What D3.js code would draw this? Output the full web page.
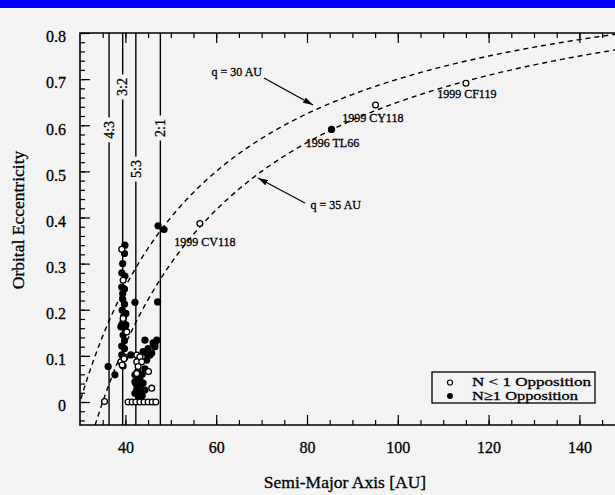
<!DOCTYPE html>
<html>
<head>
<meta charset="utf-8">
<script src="https://cdn.jsdelivr.net/npm/d3@7"></script>
<style>
  body { margin: 0; background: #f3f3f3; }
  svg { display: block; }
  text { font-family: "Liberation Serif", "DejaVu Serif", serif; fill: #000; stroke: #000; stroke-width: 0.3px; }
</style>
</head>
<body>
<svg id="chart" width="615" height="495"></svg>
<script>
// tick values
var xTicks = [40, 60, 80, 100, 120, 140];
var yTicks = [0, 0.1, 0.2, 0.3, 0.4, 0.5, 0.6, 0.7, 0.8];

// mean-motion resonances with Neptune
var resonanceNames = ["4:3", "3:2", "5:3", "2:1"];
var resonanceA = [36.4, 39.4, 42.3, 47.7];
var resonanceLabelE = [0.590, 0.683, 0.505, 0.594];

// perihelion curves
var perihelionQ = [30, 35];

// objects observed at fewer than one opposition [a, e]
var singleOpp = [
  [35.4, 0.001], [39.2, 0.331], [39.5, 0.264], [39.5, 0.181], [40.3, 0.152],
  [39.9, 0.097], [39.0, 0.087], [39.5, 0.078], [39.3, 0.080], [39.7, 0.094],
  [42.5, 0.102], [43.2, 0.098], [42.5, 0.087], [43.6, 0.087], [42.8, 0.077],
  [42.5, 0.062], [45.8, 0.030], [45.1, 0.066],
  [40.6, 0], [41.5, 0], [42.3, 0], [43.2, 0], [44.1, 0], [45.0, 0], [45.9, 0], [46.7, 0],
  [56.4, 0.387], [95.1, 0.644], [115.0, 0.691]
];

// objects observed at one or more oppositions [a, e]
var multiOpp = [
  [36.2, 0.077], [37.7, 0.059],
  [39.9, 0.340], [39.8, 0.322], [39.2, 0.280], [39.9, 0.273], [39.2, 0.249],
  [39.4, 0.223], [39.8, 0.212], [39.3, 0.199], [40.1, 0.192], [39.2, 0.167],
  [39.9, 0.160], [39.5, 0.174], [39.0, 0.163], [40.1, 0.167], [39.5, 0.145],
  [39.8, 0.133], [39.2, 0.121], [39.8, 0.116], [39.2, 0.102], [39.4, 0.235],
  [39.8, 0.245], [39.4, 0.300], [39.6, 0.185],
  [41.2, 0.102],
  [42.1, 0.216], [44.3, 0.134], [46.1, 0.128], [46.5, 0.120], [45.0, 0.116],
  [43.9, 0.109], [44.7, 0.105], [45.4, 0.102], [45.8, 0.106], [44.7, 0.091],
  [44.3, 0.072], [42.1, 0.059], [43.2, 0.051], [42.1, 0.044], [43.9, 0.041],
  [42.7, 0.033], [44.3, 0.026], [42.1, 0.019], [43.6, 0.022], [42.9, 0.012],
  [42.5, 0.028], [43.3, 0.038], [43.7, 0.060], [42.7, 0.066], [42.3, 0.040],
  [43.1, 0.008], [43.7, 0.014], [46.9, 0.134], [46.5, 0.127],
  [47.1, 0.217], [47.2, 0.382], [48.5, 0.374],
  [85.4, 0.591]
];

// named objects and where their labels sit
var objectNames = ["1999 CF119", "1999 CY118", "1996 TL66", "1999 CV118"];
var objectLabelA = [115.2, 94.5, 85.6, 57.5];
var objectLabelE = [0.659, 0.607, 0.552, 0.338];

var svg = d3.select("#chart");

// scanned page has a blue strip on top
svg.append("rect").attr("x", 0).attr("y", 0).attr("width", 615).attr("height", 8).attr("fill", "#0000ff");

var x = d3.scaleLinear().domain([30, 140]).range([80, 579.4]);
var y = d3.scaleLinear().domain([0, 0.8]).range([402, 33]);
var aMin = 30, aMax = x.invert(640);
var eMin = y.invert(425), eMax = 0.8;
var plotL = x(aMin), plotR = x(aMax), plotT = y(eMax), plotB = y(eMin);

svg.append("clipPath").attr("id", "clip")
  .append("rect").attr("x", plotL).attr("y", plotT).attr("width", plotR - plotL).attr("height", plotB - plotT);

function minorRange(a, b, step) {
  var out = [];
  for (var v = a; v <= b + 1e-9; v += step) out.push(+v.toFixed(3));
  return out;
}
var xMinor = minorRange(35, 150, 5);
var yMinor = minorRange(-0.04, 0.8, 0.02);

function styleAxis(g) {
  g.select(".domain").remove();
  g.selectAll("line").attr("stroke", "#000").attr("stroke-width", 1.2);
}

// axes with inward ticks
svg.append("g").attr("transform", "translate(0," + plotB + ")")
  .call(d3.axisBottom(x).tickValues(xMinor).tickSize(-5).tickFormat(""))
  .call(styleAxis);
svg.append("g").attr("transform", "translate(0," + plotB + ")")
  .call(d3.axisBottom(x).tickValues(xTicks).tickSize(-10).tickPadding(17))
  .call(styleAxis)
  .selectAll("text").style("font-size", "16px");
svg.append("g").attr("transform", "translate(0," + plotT + ")")
  .call(d3.axisTop(x).tickValues(xMinor).tickSize(-5).tickFormat(""))
  .call(styleAxis);
svg.append("g").attr("transform", "translate(0," + plotT + ")")
  .call(d3.axisTop(x).tickValues(xTicks).tickSize(-10).tickFormat(""))
  .call(styleAxis);

svg.append("g").attr("transform", "translate(" + plotL + ",0)")
  .call(d3.axisLeft(y).tickValues(yMinor).tickSize(-5).tickFormat(""))
  .call(styleAxis);
svg.append("g").attr("transform", "translate(" + plotL + ",0)")
  .call(d3.axisLeft(y).tickValues(yTicks).tickSize(-10).tickPadding(14)
    .tickFormat(function (d) { return d === 0 ? "0" : d3.format(".1f")(d); }))
  .call(styleAxis)
  .selectAll("text").style("font-size", "16px").attr("dy", "0.55em");

// frame
svg.append("path")
  .attr("d", "M" + plotR + "," + plotT + "H" + plotL + "V" + plotB + "H" + plotR)
  .attr("fill", "none").attr("stroke", "#000").attr("stroke-width", 1.6);

// axis titles
svg.append("text").attr("x", 345).attr("y", 488).attr("text-anchor", "middle")
  .style("font-size", "17.5px").text("Semi-Major Axis [AU]");
svg.append("text").attr("transform", "translate(24,220) rotate(-90)").attr("text-anchor", "middle")
  .style("font-size", "17.5px").text("Orbital Eccentricity");

var plot = svg.append("g").attr("clip-path", "url(#clip)");

// resonance lines with their rotated labels
resonanceA.forEach(function (a, i) {
  plot.append("line").attr("x1", x(a)).attr("x2", x(a)).attr("y1", plotT).attr("y2", plotB)
    .attr("stroke", "#000").attr("stroke-width", 1.4);
  var ly = y(resonanceLabelE[i]);
  plot.append("rect").attr("x", x(a) - 6).attr("y", ly - 12.5).attr("width", 12).attr("height", 25)
    .attr("fill", "#f3f3f3");
  plot.append("text").attr("transform", "translate(" + (x(a) + 4.8) + "," + ly + ") rotate(-90)")
    .attr("text-anchor", "middle").style("font-size", "14px").text(resonanceNames[i]);
});

// constant perihelion curves e = 1 - q/a
var curve = d3.line().x(function (d) { return x(d[0]); }).y(function (d) { return y(d[1]); });
perihelionQ.forEach(function (q) {
  var pts = d3.range(q / (1 - eMin), aMax, 0.25).map(function (a) { return [a, 1 - q / a]; });
  plot.append("path").attr("d", curve(pts)).attr("fill", "none")
    .attr("stroke", "#000").attr("stroke-width", 1.4).attr("stroke-dasharray", "5,4");
});

// data points
plot.selectAll(".multi").data(multiOpp).enter().append("circle")
  .attr("cx", function (d) { return x(d[0]); })
  .attr("cy", function (d) { return y(d[1]); })
  .attr("r", 3.6).attr("fill", "#000");
plot.selectAll(".single").data(singleOpp).enter().append("circle")
  .attr("cx", function (d) { return x(d[0]); })
  .attr("cy", function (d) { return y(d[1]); })
  .attr("r", 2.9).attr("fill", "#fff").attr("stroke", "#000").attr("stroke-width", 1.3);

// object names
objectNames.forEach(function (name, i) {
  plot.append("text").attr("x", x(objectLabelA[i])).attr("y", y(objectLabelE[i]))
    .attr("text-anchor", "middle").style("font-size", "12px").text(name);
});

// q annotations with arrows
svg.append("defs").append("marker").attr("id", "head")
  .attr("viewBox", "0 0 10 6").attr("refX", 10).attr("refY", 3)
  .attr("markerWidth", 10).attr("markerHeight", 6).attr("orient", "auto")
  .attr("markerUnits", "userSpaceOnUse")
  .append("path").attr("d", "M0,0L10,3L0,6Z").attr("fill", "#000");

var notes = [
  {text: "q = 30 AU", tx: 262, ty: 76, x1: 264, y1: 78, x2: 313, y2: 105},
  {text: "q = 35 AU", tx: 361, ty: 209, x1: 305, y1: 203, x2: 258, y2: 178}
];
notes.forEach(function (n) {
  svg.append("text").attr("x", n.tx).attr("y", n.ty).attr("text-anchor", "end")
    .style("font-size", "12px").text(n.text);
  svg.append("line").attr("x1", n.x1).attr("y1", n.y1).attr("x2", n.x2).attr("y2", n.y2)
    .attr("stroke", "#000").attr("stroke-width", 1.2).attr("marker-end", "url(#head)");
});

// legend
var legend = svg.append("g");
legend.append("rect").attr("x", 432).attr("y", 372).attr("width", 163).attr("height", 31)
  .attr("fill", "#f3f3f3").attr("stroke", "#000").attr("stroke-width", 1.3);
legend.append("circle").attr("cx", 450).attr("cy", 382.5).attr("r", 2.5)
  .attr("fill", "#fff").attr("stroke", "#000").attr("stroke-width", 1.2);
legend.append("circle").attr("cx", 450).attr("cy", 396).attr("r", 3).attr("fill", "#000");
legend.append("text").attr("x", 472).attr("y", 386).style("font-size", "13px")
  .attr("textLength", 119).attr("lengthAdjust", "spacingAndGlyphs").text("N < 1 Opposition");
legend.append("text").attr("x", 472).attr("y", 400).style("font-size", "13px")
  .attr("textLength", 106).attr("lengthAdjust", "spacingAndGlyphs").text("N\u22651 Opposition");
</script>
</body>
</html>
